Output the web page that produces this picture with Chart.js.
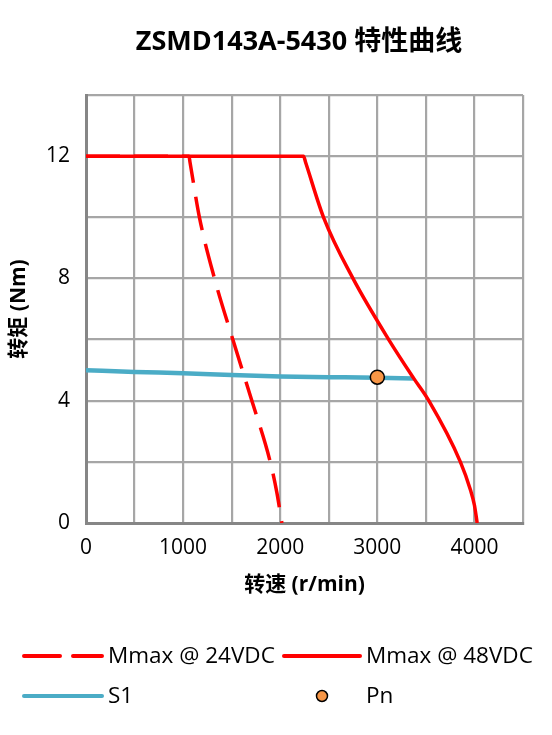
<!DOCTYPE html>
<html>
<head>
<meta charset="utf-8">
<script src="https://cdn.jsdelivr.net/npm/chart.js@4.4.1/dist/chart.umd.min.js"></script>
<style>
    html, body { margin: 0; padding: 0; background: #ffffff; }
    #wrap { width: 552px; height: 735px; }
</style>
</head>
<body>
<div id="wrap"><canvas id="curveChart" width="552" height="735"></canvas></div>
<script>
const chartTitle = 'ZSMD143A-5430 特性曲线';

// Mmax @ 24VDC
const rpm24 = [0, 1060, 1071, 1168, 1323, 1512, 1708, 1897, 1965, 2017];
const torque24 = [12, 12, 11.8, 10, 8, 6, 4, 2, 1, 0];

// Mmax @ 48VDC
const rpm48 = [0, 2240, 2261, 2446, 2749, 3117, 3375, 3530, 3855, 3960, 4000, 4028];
const torque48 = [12, 12, 11.8, 10, 8, 6, 4.73, 4, 2, 1.07, 0.58, 0];

// S1 continuous
const rpmS1 = [0, 500, 1000, 1500, 2000, 2500, 3000, 3375];
const torqueS1 = [5.0, 4.94, 4.9, 4.84, 4.79, 4.77, 4.75, 4.73];

// rated point
const rpmPn = [3000];
const torquePn = [4.77];

const xTicks = [0, 1000, 2000, 3000, 4000];
const yTicks = [0, 4, 8, 12];

const FONT = "'Open Sans', 'Noto Sans CJK SC', sans-serif";

function toPoints(xs, ys) {
    return xs.map((x, i) => ({ x: x, y: ys[i] }));
}

// title + 2x2 legend, drawn on the chart canvas
const titleAndLegend = {
    id: 'titleAndLegend',
    afterDraw(chart) {
        const ctx = chart.ctx;
        ctx.save();
        ctx.fillStyle = '#000000';
        ctx.font = 'bold 27px ' + FONT;
        ctx.textAlign = 'center';
        ctx.textBaseline = 'middle';
        ctx.fillText(chartTitle, 299, 42);

        const slots = [
            { x: 24, y: 656, len: 78 }, { x: 284, y: 656, len: 76 },
            { x: 24, y: 696, len: 78 }, { x: 284, y: 696, len: 76 }
        ];
        chart.data.datasets.forEach((ds, k) => {
            const s = slots[k];
            if (ds.showLine === false) {
                ctx.beginPath();
                ctx.arc(s.x + s.len / 2, s.y, 5.5, 0, Math.PI * 2);
                ctx.fillStyle = ds.pointBackgroundColor;
                ctx.fill();
                ctx.lineWidth = 1.5;
                ctx.strokeStyle = ds.pointBorderColor;
                ctx.stroke();
            } else {
                ctx.beginPath();
                ctx.setLineDash(ds.borderDash ? [36, 13] : []);
                ctx.lineWidth = 4;
                ctx.lineCap = 'round';
                ctx.strokeStyle = ds.borderColor;
                ctx.moveTo(s.x, s.y);
                ctx.lineTo(s.x + s.len, s.y);
                ctx.stroke();
                ctx.setLineDash([]);
            }
            ctx.fillStyle = '#000000';
            ctx.font = '500 22.5px ' + FONT;
            ctx.textBaseline = 'middle';
            ctx.textAlign = 'left';
            ctx.fillText(ds.label, s.x + s.len + 6, s.y + 1);
        });
        ctx.restore();
    }
};

const ctx = document.getElementById('curveChart').getContext('2d');
new Chart(ctx, {
    type: 'scatter',
    data: {
        datasets: [
            {
                label: 'Mmax @ 24VDC',
                data: toPoints(rpm24, torque24),
                showLine: true,
                borderColor: '#ff0000',
                borderWidth: 3.5,
                borderDash: [34, 14],
                pointRadius: 0,
                cubicInterpolationMode: 'monotone',
                order: 1
            },
            {
                label: 'Mmax @ 48VDC',
                data: toPoints(rpm48, torque48),
                showLine: true,
                borderColor: '#ff0000',
                borderWidth: 3.5,
                pointRadius: 0,
                cubicInterpolationMode: 'monotone',
                order: 2
            },
            {
                label: 'S1',
                data: toPoints(rpmS1, torqueS1),
                showLine: true,
                borderColor: '#4bacc6',
                borderWidth: 4.5,
                pointRadius: 0,
                cubicInterpolationMode: 'monotone',
                order: 3
            },
            {
                label: 'Pn',
                data: toPoints(rpmPn, torquePn),
                showLine: false,
                pointRadius: 7,
                pointBackgroundColor: '#f79646',
                pointBorderColor: '#000000',
                pointBorderWidth: 1.5,
                order: 0
            }
        ]
    },
    options: {
        responsive: false,
        animation: false,
        layout: { padding: { left: 0, top: 95, right: 29, bottom: 132 } },
        plugins: {
            legend: { display: false },
            tooltip: { enabled: false },
            title: { display: false }
        },
        scales: {
            x: {
                type: 'linear',
                min: 0,
                max: 4500,
                afterBuildTicks(scale) {
                    const t = [];
                    for (let v = 0; v <= 4500; v += 500) t.push({ value: v });
                    scale.ticks = t;
                },
                afterFit(scale) { scale.height = 80; },
                ticks: {
                    autoSkip: false,
                    maxRotation: 0,
                    padding: 12,
                    color: '#000000',
                    font: { family: FONT, size: 21 },
                    callback: v => xTicks.includes(v) ? String(v) : ''
                },
                grid: {
                    drawTicks: false,
                    color: '#a6a6a6',
                    lineWidth: 2.2
                },
                border: { color: '#868686', width: 3 },
                title: {
                    display: true,
                    text: '转速 (r/min)',
                    color: '#000000',
                    font: { family: FONT, size: 21, weight: 'bold', lineHeight: 1.2 },
                    padding: { top: 0, bottom: 5 }
                }
            },
            y: {
                type: 'linear',
                min: 0,
                max: 14,
                afterBuildTicks(scale) {
                    const t = [];
                    for (let v = 0; v <= 14; v += 2) t.push({ value: v });
                    scale.ticks = t;
                },
                afterFit(scale) { scale.width = 86; },
                ticks: {
                    autoSkip: false,
                    padding: 16,
                    color: '#000000',
                    font: { family: FONT, size: 21 },
                    callback: v => yTicks.includes(v) ? String(v) : ''
                },
                grid: {
                    drawTicks: false,
                    color: '#a6a6a6',
                    lineWidth: 2.2
                },
                border: { color: '#868686', width: 3 },
                title: {
                    display: true,
                    text: '转矩 (Nm)',
                    color: '#000000',
                    font: { family: FONT, size: 21, weight: 'bold', lineHeight: 1.2 },
                    padding: { top: 6, bottom: 0 }
                }
            }
        }
    },
    plugins: [titleAndLegend]
});
</script>
</body>
</html>
